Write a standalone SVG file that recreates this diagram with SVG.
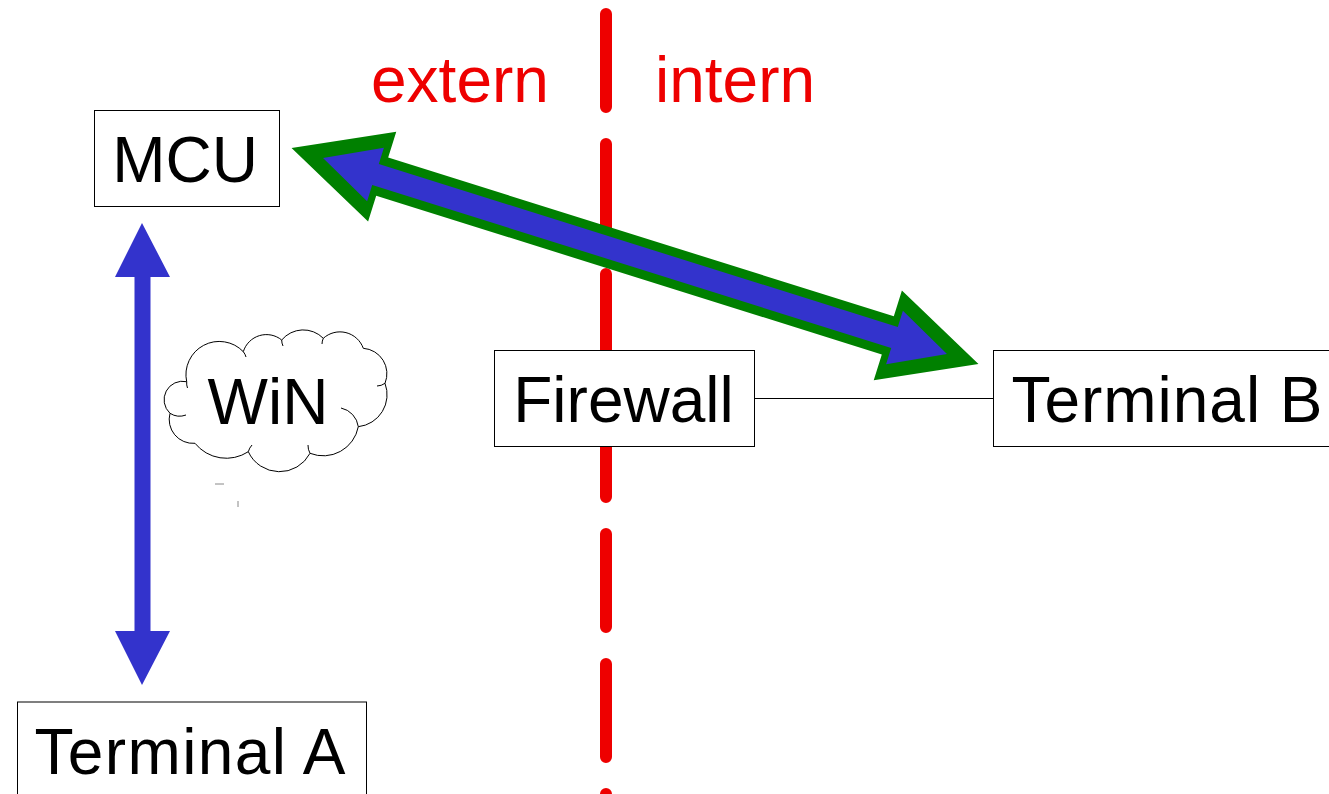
<svg xmlns="http://www.w3.org/2000/svg" width="1329" height="794" viewBox="0 0 1329 794">
<style>
.box{fill:#fff;stroke:#000;stroke-width:1}
.lbl{font-family:"Liberation Sans",Arial,sans-serif;font-size:64px;fill:#000}
.red{font-family:"Liberation Sans",Arial,sans-serif;font-size:64px;fill:#ee0000}
.cl{fill:none;stroke:#000;stroke-width:1}
</style>
<rect width="1329" height="794" fill="#fff"/>
<g id="separator">
<line x1="606" y1="14" x2="606" y2="800" stroke="#ee0000" stroke-width="12" stroke-linecap="round" stroke-dasharray="93 37"/>
<text class="red" x="371" y="102">extern</text>
<text class="red" x="655" y="102">intern</text>
</g>
<g id="mcu">
<rect class="box" x="94.5" y="110.5" width="185" height="96"/>
<text class="lbl" x="185" y="182" text-anchor="middle">MCU</text>
</g>
<g id="terminal-a">
<rect class="box" x="17.5" y="702" width="349" height="100"/>
<text class="lbl" x="34.5" y="774" textLength="311" lengthAdjust="spacing">Terminal A</text>
</g>
<g id="firewall">
<rect class="box" x="494.5" y="350.5" width="260" height="96"/>
<text class="lbl" x="623.5" y="422" text-anchor="middle">Firewall</text>
</g>
<g id="terminal-b">
<rect class="box" x="993.5" y="350.5" width="345" height="96"/>
<text class="lbl" x="1011.5" y="422" textLength="311" lengthAdjust="spacing">Terminal B</text>
</g>
<g id="win">
<path d="M186.7,381.7 A33.3,33.3 0 0 1 243.3,351.7 A24.2,24.2 0 0 1 281.7,340 A28.1,28.1 0 0 1 323.3,338.3 A24.8,24.8 0 0 1 363.3,348.3 A25.4,25.4 0 0 1 385,383.3 A32.2,32.2 0 0 1 358.3,426.7 A35.7,35.7 0 0 1 310,453.3 A34.4,34.4 0 0 1 248.3,451.7 A40.2,40.2 0 0 1 195,443.3 A23.9,23.9 0 0 1 170,413.3 A18.5,18.5 0 0 1 186.7,381.7 Z" fill="#fff" stroke="#000" stroke-width="1"/>
<path class="cl" d="M186.7,381.7 A14,14 0 0 0 187.5,388 M243.3,351.7 A14,14 0 0 1 246,357 M281.7,340 A14,14 0 0 0 283,346 M323.3,338.3 A14,14 0 0 0 322,344 M385,383.3 A14,14 0 0 1 377,386 M358.3,426.7 A22,22 0 0 0 341,408 M310,453.3 A16,16 0 0 1 308,445 M248.3,451.7 A16,16 0 0 1 252,445 M170,413.3 A18,18 0 0 0 186,415"/>
<text class="lbl" x="268" y="424" text-anchor="middle">WiN</text>
<line x1="215" y1="484" x2="224" y2="484" stroke="#888" stroke-width="1"/>
<line x1="238" y1="501" x2="238" y2="507" stroke="#888" stroke-width="1"/>
</g>
<g id="connectors">
<line x1="754" y1="398.5" x2="993" y2="398.5" stroke="#000" stroke-width="1"/>
<polygon points="142,223 170,277 150.5,277 150.5,631 170,631 142,685 115,631 134.5,631 134.5,277 115,277" fill="#3333cc"/>
<g transform="translate(635,256) rotate(17.44)">
<polygon points="-360,0 -265,-47 -265,-20 265,-20 265,-47 360,0 265,47 265,20 -265,20 -265,47" fill="#008000"/>
<polygon points="-327,0 -272,-28 -272,-11 272,-11 272,-28 327,0 272,28 272,11 -272,11 -272,28" fill="#3333cc"/>
</g>
</g>
</svg>
